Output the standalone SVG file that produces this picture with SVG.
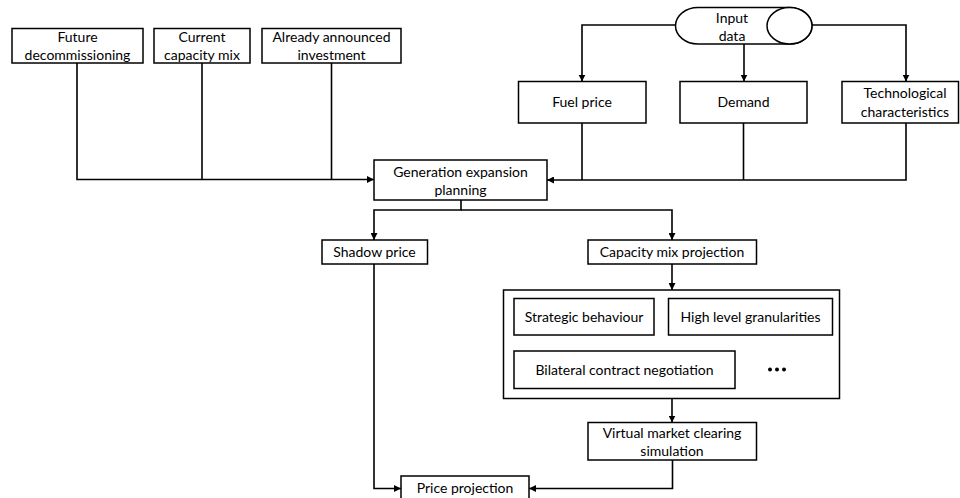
<svg xmlns="http://www.w3.org/2000/svg" width="960" height="498" viewBox="0 0 960 498">
  <style>
    .box { fill: #ffffff; stroke: #000000; stroke-width: 1.5; }
    .wire { fill: none; stroke: #000000; stroke-width: 1.6; }
    .lbl { font-family: Lato, "Liberation Sans", sans-serif; font-size: 14px; fill: #000000; text-anchor: middle; }
  </style>
  <defs>
    <marker id="arr" viewBox="0 0 10 10" refX="10" refY="5" markerWidth="7" markerHeight="7" markerUnits="userSpaceOnUse" orient="auto">
      <path d="M0,0 L10,5 L0,10 Z" fill="#000000"/>
    </marker>
  </defs>
  <rect width="960" height="498" fill="#ffffff"/>

  <!-- connectors -->
  <g id="connectors">
    <!-- left inputs into planning -->
    <path class="wire" d="M77,63 V179.5 H374" marker-end="url(#arr)"/>
    <path class="wire" d="M202,63 V179.5"/>
    <path class="wire" d="M331.5,63 V179.5"/>
    <!-- input data fan-out -->
    <path class="wire" d="M676,25 H582 V81.5" marker-end="url(#arr)"/>
    <path class="wire" d="M744,44 V81.5" marker-end="url(#arr)"/>
    <path class="wire" d="M812,25 H906 V81.5" marker-end="url(#arr)"/>
    <!-- right inputs into planning -->
    <path class="wire" d="M906,123 V180 H547" marker-end="url(#arr)"/>
    <path class="wire" d="M582,123 V180"/>
    <path class="wire" d="M743.5,123 V180"/>
    <!-- planning outputs -->
    <path class="wire" d="M461,200 V210 H374 V240" marker-end="url(#arr)"/>
    <path class="wire" d="M461,210 H672 V240" marker-end="url(#arr)"/>
    <!-- capacity mix to market container -->
    <path class="wire" d="M672,264 V290" marker-end="url(#arr)"/>
    <path class="wire" d="M672,398.5 V422.5" marker-end="url(#arr)"/>
    <!-- to price projection -->
    <path class="wire" d="M374,264 V488.5 H401" marker-end="url(#arr)"/>
    <path class="wire" d="M672.5,460 V488.5 H529" marker-end="url(#arr)"/>
  </g>

  <g id="future-decommissioning">
    <rect class="box" x="12" y="28.5" width="131" height="34.5"/>
    <text class="lbl" x="77.5" y="42">Future</text>
    <text class="lbl" x="77.5" y="60">decommissioning</text>
  </g>
  <g id="current-capacity-mix">
    <rect class="box" x="154" y="28.5" width="96" height="34.5"/>
    <text class="lbl" x="202" y="42">Current</text>
    <text class="lbl" x="202" y="60">capacity mix</text>
  </g>
  <g id="announced-investment">
    <rect class="box" x="262" y="28.5" width="139" height="34.5"/>
    <text class="lbl" x="331.5" y="42">Already announced</text>
    <text class="lbl" x="331.5" y="60">investment</text>
  </g>

  <g id="input-data">
    <path class="box" d="M698,7.5 H789.5 A22.5,18.25 0 0 1 789.5,44 H698 A22.5,18.25 0 0 1 698,7.5 Z"/>
    <ellipse class="box" cx="789.5" cy="25.75" rx="22.5" ry="18.25"/>
    <text class="lbl" x="732" y="22.5">Input</text>
    <text class="lbl" x="732" y="41">data</text>
  </g>
  <g id="fuel-price">
    <rect class="box" x="518.5" y="81.5" width="127.5" height="41.5"/>
    <text class="lbl" x="582" y="107">Fuel price</text>
  </g>
  <g id="demand">
    <rect class="box" x="680" y="81.5" width="127" height="41.5"/>
    <text class="lbl" x="743.5" y="107">Demand</text>
  </g>
  <g id="technological-characteristics">
    <rect class="box" x="842" y="81.5" width="116.5" height="41.5"/>
    <text class="lbl" x="905" y="98">Technological</text>
    <text class="lbl" x="905" y="116.5">characteristics</text>
  </g>

  <g id="generation-expansion-planning">
    <rect class="box" x="374" y="160" width="173" height="40"/>
    <text class="lbl" x="460.5" y="176.5">Generation expansion</text>
    <text class="lbl" x="460.5" y="195">planning</text>
  </g>
  <g id="shadow-price">
    <rect class="box" x="322" y="240" width="105.5" height="24"/>
    <text class="lbl" x="374.5" y="257">Shadow price</text>
  </g>
  <g id="capacity-mix-projection">
    <rect class="box" x="588" y="240" width="168.5" height="24"/>
    <text class="lbl" x="672" y="257">Capacity mix projection</text>
  </g>

  <g id="market-features">
    <rect class="box" x="503.5" y="290" width="336" height="108.5"/>
    <g id="strategic-behaviour">
      <rect class="box" x="514" y="298.5" width="140" height="36.5"/>
      <text class="lbl" x="584" y="321.5">Strategic behaviour</text>
    </g>
    <g id="high-level-granularities">
      <rect class="box" x="668.5" y="298.5" width="164" height="36.5"/>
      <text class="lbl" x="750.5" y="321.5">High level granularities</text>
    </g>
    <g id="bilateral-contract-negotiation">
      <rect class="box" x="514" y="351" width="221" height="37.5"/>
      <text class="lbl" x="624.5" y="374.5">Bilateral contract negotiation</text>
    </g>
    <g id="more-features">
      <circle cx="770" cy="369.5" r="2" fill="#000000"/>
      <circle cx="777" cy="369.5" r="2" fill="#000000"/>
      <circle cx="784" cy="369.5" r="2" fill="#000000"/>
    </g>
  </g>

  <g id="virtual-market-clearing">
    <rect class="box" x="588" y="422.5" width="168.5" height="37.5"/>
    <text class="lbl" x="672" y="437.5">Virtual market clearing</text>
    <text class="lbl" x="672" y="455.5">simulation</text>
  </g>

  <g id="price-projection">
    <rect class="box" x="401" y="476" width="128" height="30"/>
    <text class="lbl" x="465" y="493">Price projection</text>
  </g>
</svg>
